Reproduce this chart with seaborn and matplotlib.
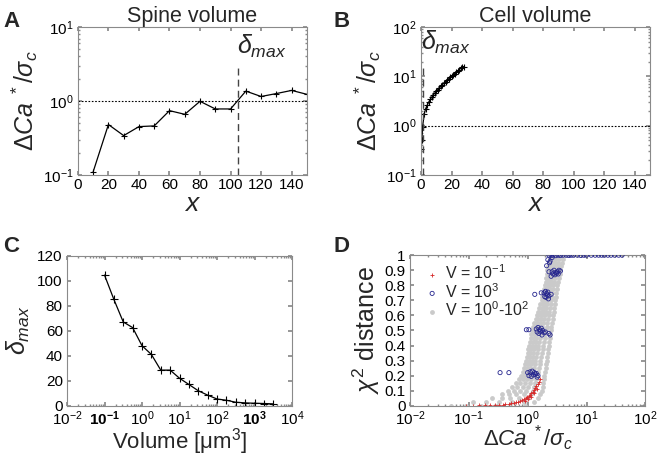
import numpy as np
import pandas as pd
import matplotlib
matplotlib.use('Agg')
import matplotlib.pyplot as plt
import seaborn as sns
from matplotlib.ticker import LogLocator, NullFormatter, FixedLocator

# ---- panel A: spine volume
spine_x = [10, 20, 30, 40, 50, 60, 70, 80, 90, 100, 110, 120, 130, 140, 150]
spine_y = [0.11, 0.48, 0.34, 0.45, 0.46, 0.74, 0.66, 0.99, 0.78, 0.78, 1.36, 1.15, 1.26, 1.39, 1.23]
spine_dmax = 105

# ---- panel B: cell volume
cell_x = [0, 0.5, 1, 2, 3, 4, 5, 6, 7, 8, 9, 10, 11, 12, 13, 14, 15, 16, 17, 18, 19, 20,
          21, 22, 23, 24, 25, 26, 27, 28]
cell_y = [0.33, 0.5, 0.95, 1.7, 2.2, 2.6, 3.0, 3.4, 3.8, 4.2, 4.6, 5.0, 5.4, 5.8, 6.3, 6.8,
          7.3, 7.8, 8.3, 8.9, 9.5, 10.1, 10.7, 11.4, 12.1, 12.9, 13.7, 14.6, 15.4, 15.8]
cell_dmax = 1.5

# ---- panel C: delta_max vs volume
vol = [0.1, 0.178, 0.316, 0.562, 1.0, 1.78, 3.16, 5.62, 10, 17.8, 31.6, 56.2, 100, 178,
       316, 562, 1000, 1780, 3162]
dmax = [104.5, 85, 67, 62.5, 48, 41, 28.5, 28.5, 22, 17, 12, 8.5, 5.4, 4.4, 2.8, 2.3, 2.0,
        1.8, 1.5]

# ---- panel D: chi2 distance scatter
gray_levels = [0.0, 0.025, 0.05, 0.075, 0.1, 0.125, 0.15, 0.175, 0.2, 0.225, 0.25, 0.275,
               0.3, 0.325, 0.35, 0.375, 0.4, 0.425, 0.45, 0.475, 0.5, 0.525, 0.55, 0.575,
               0.6, 0.625, 0.65, 0.675, 0.7, 0.725, 0.75, 0.775, 0.8, 0.825, 0.85, 0.875,
               0.9, 0.925, 0.95, 0.975, 1.0]
gray_rows = [
    [0.05, 0.09, 0.16, 0.28, 0.5, 0.9],
    [0.12, 0.2, 0.33, 0.55, 0.85, 1.3],
    [0.25, 0.36, 0.5, 0.7, 1.0, 1.5],
    [0.36, 0.48, 0.63, 0.85, 1.15, 1.65],
    [0.46, 0.58, 0.74, 0.95, 1.25, 1.75],
    [0.55, 0.67, 0.82, 1.02, 1.3, 1.8],
    [0.63, 0.75, 0.9, 1.08, 1.35, 1.85],
    [0.7, 0.82, 0.96, 1.13, 1.4, 1.88],
    [0.76, 0.88, 1.02, 1.18, 1.45, 1.92],
    [0.82, 0.93, 1.06, 1.22, 1.5, 1.98],
    [0.86, 0.97, 1.1, 1.27, 1.55, 2.02],
    [0.9, 1.01, 1.14, 1.31, 1.6, 2.08],
    [0.94, 1.05, 1.18, 1.35, 1.65, 2.12],
    [0.97, 1.08, 1.21, 1.39, 1.7, 2.16],
    [1.0, 1.11, 1.25, 1.43, 1.75, 2.2],
    [1.03, 1.15, 1.29, 1.47, 1.8, 2.25],
    [1.06, 1.18, 1.33, 1.52, 1.85, 2.3],
    [1.09, 1.22, 1.37, 1.57, 1.9, 2.34],
    [1.12, 1.26, 1.41, 1.62, 1.95, 2.38],
    [1.15, 1.3, 1.46, 1.67, 2.0, 2.42],
    [1.18, 1.34, 1.51, 1.72, 2.05, 2.46],
    [1.24, 1.4, 1.57, 1.78, 2.1, 2.52],
    [1.3, 1.46, 1.63, 1.84, 2.16, 2.58],
    [1.37, 1.52, 1.69, 1.9, 2.22, 2.64],
    [1.44, 1.59, 1.76, 1.96, 2.28, 2.7],
    [1.51, 1.66, 1.82, 2.02, 2.34, 2.76],
    [1.58, 1.72, 1.88, 2.08, 2.4, 2.82],
    [1.65, 1.79, 1.95, 2.14, 2.45, 2.88],
    [1.72, 1.85, 2.01, 2.2, 2.5, 2.94],
    [1.78, 1.91, 2.06, 2.25, 2.55, 3.0],
    [1.84, 1.97, 2.12, 2.31, 2.6, 3.05],
    [1.9, 2.03, 2.18, 2.37, 2.66, 3.12],
    [1.96, 2.09, 2.24, 2.43, 2.72, 3.2],
    [2.02, 2.15, 2.3, 2.5, 2.8, 3.3],
    [2.07, 2.2, 2.36, 2.57, 2.88, 3.4],
    [2.12, 2.26, 2.43, 2.65, 2.97, 3.5],
    [2.17, 2.32, 2.5, 2.73, 3.06, 3.6],
    [2.22, 2.38, 2.58, 2.82, 3.16, 3.7],
    [2.3, 2.46, 2.67, 2.92, 3.28, 3.8],
    [2.4, 2.58, 2.8, 3.05, 3.4, 3.95],
    [2.6, 2.8, 3.05, 3.35, 3.8, 4.5],
]
red_x = [0.09, 0.12, 0.15, 0.19, 0.23, 0.28, 0.33, 0.38, 0.42, 0.48, 0.53, 0.58, 0.63,
         0.68, 0.74, 0.8, 0.86, 0.92, 0.98, 1.04, 1.1, 1.16, 1.22, 1.28, 1.34, 1.4, 1.48,
         1.55, 1.62, 0.9, 1.0, 1.15, 1.3, 1.45]
red_y = [0.0, 0.0, 0.002, 0.003, 0.004, 0.005, 0.007, 0.008, 0.01, 0.012, 0.015, 0.018,
         0.022, 0.026, 0.03, 0.036, 0.042, 0.05, 0.057, 0.065, 0.074, 0.083, 0.093, 0.104,
         0.116, 0.13, 0.145, 0.16, 0.178, 0.03, 0.045, 0.06, 0.085, 0.11]
blue_x = [2.3, 2.5, 2.7, 3.0, 3.3, 3.6, 4.0, 4.5, 5.0, 5.5, 6.0, 7.0, 8.0, 9.0, 10, 12, 14,
          16, 18, 20, 23, 26, 30, 35, 40,
          2.2, 2.4, 2.6, 2.35, 2.1,
          2.6, 2.8, 3.0, 3.2, 3.4, 3.6, 2.7, 2.9, 3.1, 3.3, 2.3, 2.5,
          1.9, 2.0, 2.1, 2.2, 2.3, 2.5, 1.95, 2.05, 2.15, 2.25, 1.32, 1.7,
          1.4, 1.5, 1.6, 1.7, 1.8, 2.0, 1.45, 1.55, 1.65, 1.75, 1.9, 0.95, 1.05, 2.3, 2.4,
          1.0, 1.1, 1.2, 1.3, 1.4, 1.5, 1.05, 1.15, 1.25, 1.35, 1.45, 0.34, 0.48]
blue_y = [1.0, 0.998, 1.0, 0.997, 1.0, 0.998, 1.0, 1.0, 0.998, 1.0, 1.0, 1.0, 0.998, 1.0,
          1.0, 1.0, 1.0, 1.0, 1.0, 1.0, 1.0, 1.0, 1.0, 1.0, 1.0,
          0.97, 0.96, 0.985, 0.95, 0.93,
          0.89, 0.9, 0.885, 0.89, 0.9, 0.895, 0.875, 0.87, 0.88, 0.875, 0.89, 0.86,
          0.75, 0.76, 0.745, 0.755, 0.73, 0.74, 0.725, 0.72, 0.735, 0.71, 0.74, 0.75,
          0.51, 0.52, 0.505, 0.515, 0.5, 0.49, 0.49, 0.48, 0.495, 0.47, 0.485, 0.505, 0.505,
          0.48, 0.47,
          0.22, 0.225, 0.23, 0.22, 0.215, 0.2, 0.2, 0.195, 0.205, 0.21, 0.19, 0.22, 0.22]

gray_x = [x for row in gray_rows for x in row]
gray_y = [lv for lv, row in zip(gray_levels, gray_rows) for _ in row]

sns.set_theme(style='ticks')
plt.rcParams['font.family'] = ['Liberation Sans', 'DejaVu Sans']
plt.rcParams['mathtext.fontset'] = 'custom'
plt.rcParams['mathtext.rm'] = 'Liberation Sans'
plt.rcParams['mathtext.it'] = 'Liberation Sans:italic'
plt.rcParams['mathtext.bf'] = 'Liberation Sans:bold'
plt.rcParams['axes.edgecolor'] = '#8a8a8a'
plt.rcParams['axes.linewidth'] = 0.8
plt.rcParams['xtick.direction'] = 'in'
plt.rcParams['ytick.direction'] = 'in'
plt.rcParams['xtick.top'] = True
plt.rcParams['ytick.right'] = True
plt.rcParams['xtick.color'] = '#8a8a8a'
plt.rcParams['ytick.color'] = '#8a8a8a'
plt.rcParams['xtick.labelcolor'] = 'black'
plt.rcParams['ytick.labelcolor'] = 'black'
plt.rcParams['xtick.labelsize'] = 11
plt.rcParams['ytick.labelsize'] = 11
plt.rcParams['xtick.major.pad'] = 2.5
plt.rcParams['ytick.major.pad'] = 3
plt.rcParams['xtick.major.size'] = 3
plt.rcParams['ytick.major.size'] = 3
plt.rcParams['xtick.minor.size'] = 1.5
plt.rcParams['ytick.minor.size'] = 1.5

fig = plt.figure(figsize=(6.6, 4.59), dpi=100)
axA = fig.add_axes([0.118, 0.619, 0.347, 0.322])
axB = fig.add_axes([0.638, 0.619, 0.347, 0.322])
axC = fig.add_axes([0.1015, 0.116, 0.341, 0.327])
axD = fig.add_axes([0.621, 0.116, 0.357, 0.328])

ylab = r'$\Delta Ca^{\ *}/\sigma_c$'

def log_minor(ax, axis='y'):
    loc = LogLocator(base=10, subs=np.arange(2, 10), numticks=20)
    if axis == 'y':
        ax.yaxis.set_minor_locator(loc)
        ax.yaxis.set_minor_formatter(NullFormatter())
    else:
        ax.xaxis.set_minor_locator(loc)
        ax.xaxis.set_minor_formatter(NullFormatter())

# A
dfA = pd.DataFrame({'x': spine_x, 'y': spine_y})
sns.lineplot(data=dfA, x='x', y='y', ax=axA, color='black', lw=0.9, marker='+',
             markersize=5, markeredgewidth=0.8, markeredgecolor='black')
axA.set_yscale('log')
axA.set_ylim(0.1, 10)
axA.set_xlim(0, 150)
axA.set_xticks(range(0, 141, 20))
axA.axhline(1, color='black', ls=(0, (1.5, 1.5)), lw=0.8)
axA.plot([spine_dmax, spine_dmax], [0.1, 3.2], color='#444444', ls=(0, (5, 3)), lw=1.0)
axA.text(spine_dmax - 1, 5.5, r'$\delta_{max}$', fontsize=18, va='center', ha='left')
axA.set_title('Spine volume', fontsize=15.5, pad=3)
log_minor(axA)

# B
dfB = pd.DataFrame({'x': cell_x, 'y': cell_y})
sns.lineplot(data=dfB, x='x', y='y', ax=axB, color='black', lw=0.9, marker='+',
             markersize=5, markeredgewidth=0.8, markeredgecolor='black')
axB.set_yscale('log')
axB.set_ylim(0.1, 100)
axB.set_xlim(0, 150)
axB.set_xticks(range(0, 141, 20))
axB.axhline(1, color='black', ls=(0, (1.5, 1.5)), lw=0.8)
axB.plot([cell_dmax, cell_dmax], [0.1, 17], color='#444444', ls=(0, (5, 3)), lw=1.0)
axB.text(0, 48, r'$\delta_{max}$', fontsize=18, va='center', ha='left')
axB.set_title('Cell volume', fontsize=15.5, pad=3)
log_minor(axB)

for ax in (axA, axB):
    ax.set_xlabel(r'$x$', fontsize=19, labelpad=0)
    ax.set_ylabel(ylab, fontsize=18, labelpad=2)

# C
dfC = pd.DataFrame({'v': vol, 'd': dmax})
sns.lineplot(data=dfC, x='v', y='d', ax=axC, color='black', lw=0.9, marker='+',
             markersize=6, markeredgewidth=0.8, markeredgecolor='black')
axC.set_xscale('log')
axC.set_xlim(1e-2, 1e4)
axC.set_ylim(0, 120)
axC.set_yticks(range(0, 121, 20))
dec = [1e-2, 1e-1, 1e0, 1e1, 1e2, 1e3, 1e4]
axC.xaxis.set_major_locator(FixedLocator(dec))
axC.set_xticklabels([r'$10^{-2}$', r'$\mathbf{10^{-1}}$', r'$10^{0}$', r'$10^{1}$',
                     r'$10^{2}$', r'$\mathbf{10^{3}}$', r'$10^{4}$'])
log_minor(axC, 'x')
axC.set_xlabel(r'Volume [$\mathrm{\mu m^3}$]', fontsize=16, labelpad=-1)
axC.set_ylabel(r'$\delta_{max}$', fontsize=18, labelpad=4)

# D
sns.scatterplot(x=gray_x, y=gray_y, ax=axD, color='#cacaca', s=12, linewidth=0,
                label=r'V = 10$^{0}$-10$^{2}$', zorder=1)
sns.scatterplot(x=red_x, y=red_y, ax=axD, color='#d62a2a', marker='+', s=10,
                linewidth=0.6, label=r'V = 10$^{-1}$', zorder=2)
sns.scatterplot(x=blue_x, y=blue_y, ax=axD, marker='o', s=9, fc='none',
                ec='#26268f', linewidth=0.6, label=r'V = 10$^{3}$', zorder=3)
axD.set_xscale('log')
axD.set_xlim(1e-2, 1e2)
axD.set_ylim(0, 1)
axD.set_yticks([0, 0.1, 0.2, 0.3, 0.4, 0.5, 0.6, 0.7, 0.8, 0.9, 1])
axD.set_yticklabels(['0', '0.1', '0.2', '0.3', '0.4', '0.5', '0.6', '0.7', '0.8', '0.9', '1'])
log_minor(axD, 'x')
axD.set_xlabel(ylab, fontsize=16, labelpad=-3)
axD.set_ylabel(r'$\chi^2$ distance', fontsize=18, labelpad=2)
h, l = axD.get_legend_handles_labels()
order = [1, 2, 0]
axD.legend([h[i] for i in order], [l[i] for i in order], loc='upper left', frameon=False,
           fontsize=11.5, handletextpad=0.2, labelspacing=0.0, borderaxespad=0.1,
           handlelength=1.2, markerscale=1.0, bbox_to_anchor=(0.02, 1.0))

for ax, lab, xx, yy in ((axA, 'A', 0.005, 0.975), (axB, 'B', 0.505, 0.975),
                        (axC, 'C', 0.005, 0.485), (axD, 'D', 0.505, 0.485)):
    fig.text(xx, yy, lab, fontsize=16, fontweight='bold', va='top', ha='left')

fig.savefig('out.png', dpi=100)
